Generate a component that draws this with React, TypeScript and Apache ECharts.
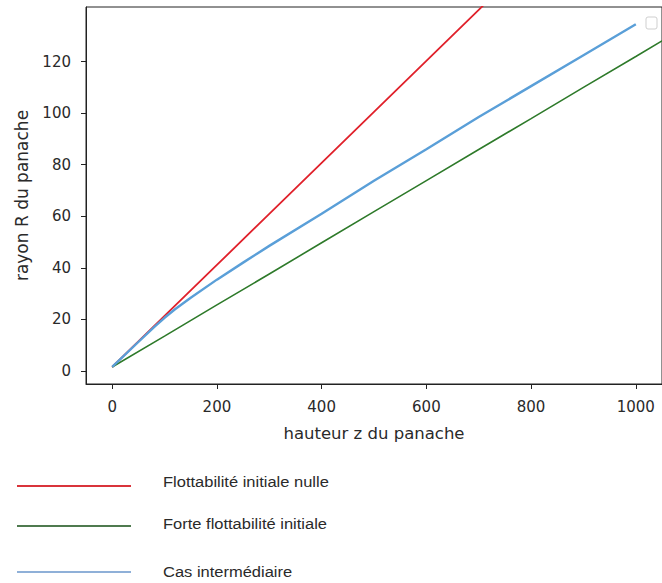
import React, { useEffect, useRef } from "react";
import * as echarts from "echarts";

// Data
const redZ = [0, 100, 200, 300, 400, 500, 600, 700, 750];
const redR = [1.5, 21.3, 41.1, 60.9, 80.7, 100.5, 120.3, 140.1, 150.0];

const greenZ = [0, 100, 200, 300, 400, 500, 600, 700, 800, 900, 1000, 1100];
const greenR = [1.5, 13.5, 25.6, 37.6, 49.7, 61.8, 73.8, 85.9, 97.9, 110.0, 122.0, 134.1];

const blueZ = [0, 50, 80, 100, 120, 150, 200, 250, 300, 400, 500, 600, 700, 800, 900, 1000];
const blueR = [1.5, 11.2, 17.0, 20.6, 23.9, 28.4, 35.4, 42.0, 48.5, 61.0, 73.8, 86.0, 98.5, 110.5, 122.5, 134.5];

const xTicks = [0, 200, 400, 600, 800, 1000];
const yTicks = [0, 20, 40, 60, 80, 100, 120];

const seriesNames = [
  "Flottabilité initiale nulle",
  "Forte flottabilité initiale",
  "Cas intermédiaire",
];
const seriesColors = ["#e0202a", "#2e7a2a", "#5a9fd8"];
const legendLineColors = ["#d9343b", "#4f7a4f", "#8fb0d8"];

const zip = (a: number[], b: number[]) => a.map((v, i) => [v, b[i]]);

export default function App() {
  const ref = useRef<HTMLDivElement>(null);
  useEffect(() => {
    document.body.style.margin = "0";
    const chart = echarts.init(ref.current!, null, { renderer: "svg" });
    const axisText = { color: "#2a2a2a", fontFamily: "DejaVu Sans", fontSize: 15 };
    const legendYs = [486, 526, 572];
    const legendTextYs = [482, 524, 572];
    chart.setOption({
      animation: false,
      backgroundColor: "#ffffff",
      grid: {
        left: 86,
        top: 7,
        right: -10,
        bottom: 199,
        show: true,
        borderColor: "#222",
        borderWidth: 1,
        backgroundColor: "transparent",
      },
      xAxis: {
        type: "value",
        min: -50,
        max: 1050,
        name: "hauteur z du panache",
        nameLocation: "middle",
        nameGap: 41,
        nameTextStyle: { ...axisText, fontSize: 16.5 },
        axisLine: { show: true, onZero: false, lineStyle: { color: "#222" } },
        axisTick: { show: true, length: 5, customValues: xTicks, lineStyle: { color: "#222" } },
        axisLabel: { ...axisText, margin: 15, customValues: xTicks, formatter: (v: number) => String(v) },
        splitLine: { show: false },
      },
      yAxis: {
        type: "value",
        min: -5.1,
        max: 141.2,
        name: "rayon R du panache",
        nameLocation: "middle",
        nameGap: 56,
        nameTextStyle: { ...axisText, fontSize: 17 },
        axisLine: { show: true, onZero: false, lineStyle: { color: "#222" } },
        axisTick: { show: true, length: 5, customValues: yTicks, lineStyle: { color: "#222" } },
        axisLabel: { ...axisText, margin: 15, customValues: yTicks, formatter: (v: number) => String(v) },
        splitLine: { show: false },
      },
      series: [
        {
          name: seriesNames[0],
          type: "line",
          data: zip(redZ, redR),
          showSymbol: false,
          clip: true,
          lineStyle: { color: seriesColors[0], width: 1.8 },
          itemStyle: { color: seriesColors[0] },
        },
        {
          name: seriesNames[1],
          type: "line",
          data: zip(greenZ, greenR),
          showSymbol: false,
          clip: true,
          lineStyle: { color: seriesColors[1], width: 1.6 },
          itemStyle: { color: seriesColors[1] },
        },
        {
          name: seriesNames[2],
          type: "line",
          data: zip(blueZ, blueR),
          showSymbol: false,
          clip: true,
          lineStyle: { color: seriesColors[2], width: 2.4 },
          itemStyle: { color: seriesColors[2] },
        },
      ],
      graphic: [
        {
          type: "rect",
          shape: { x: 646, y: 17, width: 11, height: 12, r: 2 },
          style: { fill: "#ffffff", stroke: "#cfcfcf", lineWidth: 1 },
        },
        ...seriesNames.flatMap((name, i) => [
          {
            type: "line",
            shape: { x1: 17, y1: legendYs[i], x2: 131, y2: legendYs[i] },
            style: { stroke: legendLineColors[i], lineWidth: 2 },
          },
          {
            type: "text",
            x: 163,
            y: legendTextYs[i],
            scaleX: 1.1,
            style: {
              text: name,
              fill: "#2a2a2a",
              font: "15px 'Liberation Sans', Arial, sans-serif",
              verticalAlign: "middle",
            },
          },
        ]),
      ],
    });
    return () => chart.dispose();
  }, []);
  return <div ref={ref} style={{ width: 662, height: 583 }} />;
}
